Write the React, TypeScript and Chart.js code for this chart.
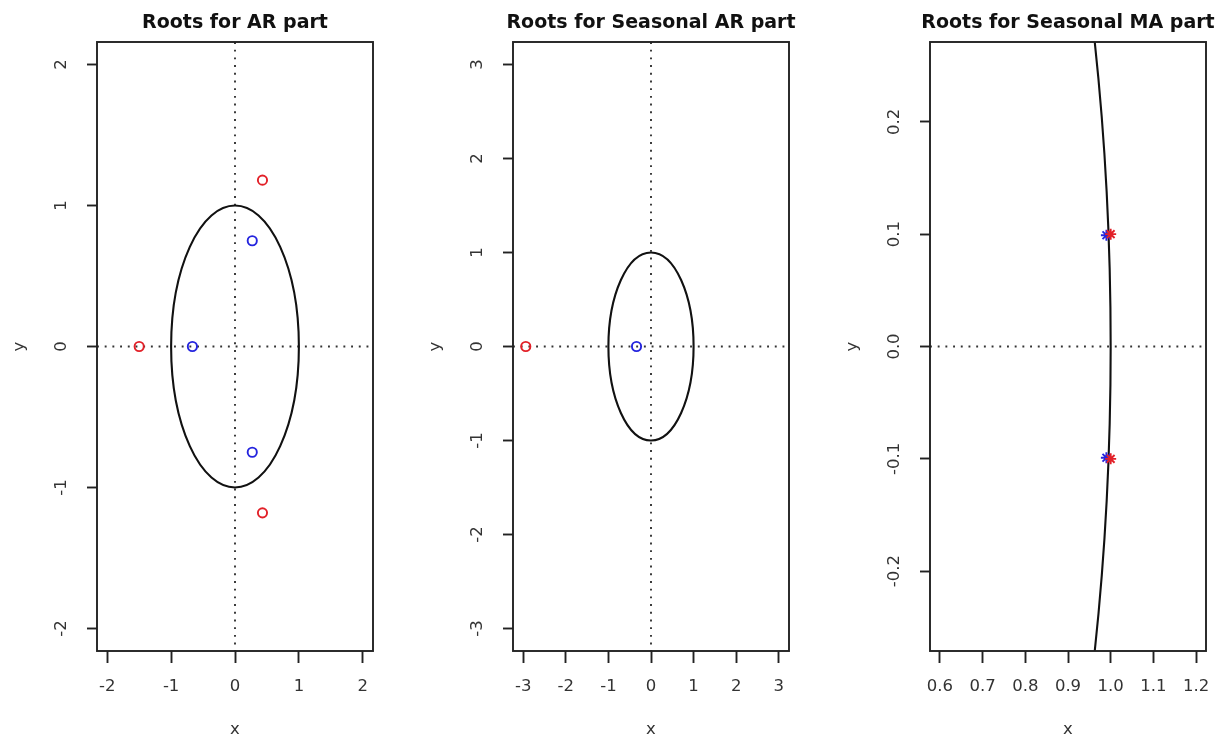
import React, { useEffect, useRef } from 'react';
import { Chart, registerables } from 'chart.js';

Chart.register(...registerables);

// ---------- data ----------
// Panel 1: AR part
const AR_ROOT_X = [-1.5, 0.43, 0.43];
const AR_ROOT_Y = [0, 1.18, -1.18];
const AR_INV_X = [-0.667, 0.27, 0.27];
const AR_INV_Y = [0, 0.75, -0.75];
const AR_TICKS = [-2, -1, 0, 1, 2];
const AR_TICK_LABELS = ['-2', '-1', '0', '1', '2'];

// Panel 2: Seasonal AR part
const SAR_ROOT_X = [-2.94];
const SAR_ROOT_Y = [0];
const SAR_INV_X = [-0.34];
const SAR_INV_Y = [0];
const SAR_TICKS = [-3, -2, -1, 0, 1, 2, 3];
const SAR_TICK_LABELS = ['-3', '-2', '-1', '0', '1', '2', '3'];

// Panel 3: Seasonal MA part
const SMA_ROOT_X = [1.0, 1.0];
const SMA_ROOT_Y = [0.1, -0.1];
const SMA_INV_X = [0.99, 0.99];
const SMA_INV_Y = [0.099, -0.099];
const SMA_X_TICKS = [0.6, 0.7, 0.8, 0.9, 1.0, 1.1, 1.2];
const SMA_X_TICK_LABELS = ['0.6', '0.7', '0.8', '0.9', '1.0', '1.1', '1.2'];
const SMA_Y_TICKS = [-0.2, -0.1, 0, 0.1, 0.2];
const SMA_Y_TICK_LABELS = ['-0.2', '-0.1', '0.0', '0.1', '0.2'];

const TITLES = ['Roots for AR part', 'Roots for Seasonal AR part', 'Roots for Seasonal MA part'];

// ---------- layout / style ----------
const FONT = 'DejaVu Sans';
const RED = 'rgb(226, 32, 40)';
const BLUE = 'rgb(36, 36, 222)';

type PanelCfg = {
  title: string;
  left: number;
  width: number;
  padRight: number;
  xRange: [number, number];
  yRange: [number, number];
  xTicks: number[];
  xLabels: string[];
  yTicks: number[];
  yLabels: string[];
  rootX: number[];
  rootY: number[];
  invX: number[];
  invY: number[];
  marker: 'circle' | 'star';
  yLabelPad: number;
};

const PANELS: PanelCfg[] = [
  {
    title: TITLES[0], left: 0, width: 408, padRight: 35,
    xRange: [-2.16, 2.16], yRange: [-2.16, 2.16],
    xTicks: AR_TICKS, xLabels: AR_TICK_LABELS, yTicks: AR_TICKS, yLabels: AR_TICK_LABELS,
    rootX: AR_ROOT_X, rootY: AR_ROOT_Y, invX: AR_INV_X, invY: AR_INV_Y,
    marker: 'circle', yLabelPad: 17,
  },
  {
    title: TITLES[1], left: 416, width: 394, padRight: 21,
    xRange: [-3.24, 3.24], yRange: [-3.24, 3.24],
    xTicks: SAR_TICKS, xLabels: SAR_TICK_LABELS, yTicks: SAR_TICKS, yLabels: SAR_TICK_LABELS,
    rootX: SAR_ROOT_X, rootY: SAR_ROOT_Y, invX: SAR_INV_X, invY: SAR_INV_Y,
    marker: 'circle', yLabelPad: 17,
  },
  {
    title: TITLES[2], left: 833, width: 392, padRight: 19,
    xRange: [0.5766, 1.2234], yRange: [-0.271, 0.271],
    xTicks: SMA_X_TICKS, xLabels: SMA_X_TICK_LABELS, yTicks: SMA_Y_TICKS, yLabels: SMA_Y_TICK_LABELS,
    rootX: SMA_ROOT_X, rootY: SMA_ROOT_Y, invX: SMA_INV_X, invY: SMA_INV_Y,
    marker: 'star', yLabelPad: 9,
  },
];

const zip = (xs: number[], ys: number[]) => xs.map((x, i) => ({ x, y: ys[i] }));

function makeDecor(title: string) {
  return {
    id: 'decor',
    beforeDatasetsDraw(chart: any) {
      const { ctx, chartArea: a, scales } = chart;
      const x = scales.x;
      const y = scales.y;
      const x0 = x.getPixelForValue(0);
      const y0 = y.getPixelForValue(0);
      ctx.save();
      ctx.beginPath();
      ctx.rect(a.left, a.top, a.right - a.left, a.bottom - a.top);
      ctx.clip();
      // dotted zero lines
      ctx.strokeStyle = '#333';
      ctx.lineWidth = 1.9;
      ctx.setLineDash([1.9, 5.8]);
      ctx.beginPath();
      ctx.moveTo(a.left, y0);
      ctx.lineTo(a.right, y0);
      ctx.stroke();
      if (x0 >= a.left && x0 <= a.right) {
        ctx.beginPath();
        ctx.moveTo(x0, a.top);
        ctx.lineTo(x0, a.bottom);
        ctx.stroke();
      }
      // unit circle
      ctx.setLineDash([]);
      ctx.strokeStyle = '#111';
      ctx.lineWidth = 2.1;
      const rx = Math.abs(x.getPixelForValue(1) - x0);
      const ry = Math.abs(y.getPixelForValue(1) - y0);
      ctx.beginPath();
      ctx.ellipse(x0, y0, rx, ry, 0, 0, Math.PI * 2);
      ctx.stroke();
      ctx.restore();
    },
    afterDraw(chart: any) {
      const { ctx, chartArea: a } = chart;
      ctx.save();
      ctx.strokeStyle = '#222';
      ctx.lineWidth = 1.9;
      ctx.strokeRect(a.left, a.top, a.right - a.left, a.bottom - a.top);
      ctx.fillStyle = '#111';
      ctx.font = `bold 19px "${FONT}"`;
      ctx.textAlign = 'center';
      ctx.textBaseline = 'alphabetic';
      ctx.fillText(title, (a.left + a.right) / 2, 28);
      ctx.restore();
    },
  };
}

function Panel({ cfg }: { cfg: PanelCfg }) {
  const ref = useRef<HTMLCanvasElement>(null);
  useEffect(() => {
    const labelFor = (ticks: number[], labels: string[]) => (v: any) => {
      const i = ticks.indexOf(Number(v));
      return i >= 0 ? labels[i] : '';
    };
    const chart = new Chart(ref.current!, {
      type: 'scatter',
      data: {
        datasets: [
          {
            label: 'roots',
            data: zip(cfg.rootX, cfg.rootY),
            pointStyle: cfg.marker,
            pointRadius: cfg.marker === 'star' ? 5.5 : 4.6,
            pointBorderWidth: 1.9,
            borderColor: RED,
            backgroundColor: 'rgba(0,0,0,0)',
            showLine: false,
          },
          {
            label: 'inverse roots',
            data: zip(cfg.invX, cfg.invY),
            pointStyle: cfg.marker,
            pointRadius: cfg.marker === 'star' ? 5.5 : 4.6,
            pointBorderWidth: 1.9,
            borderColor: BLUE,
            backgroundColor: 'rgba(0,0,0,0)',
            showLine: false,
          },
        ],
      },
      options: {
        responsive: false,
        animation: false,
        devicePixelRatio: 1,
        layout: { padding: { left: 0, right: cfg.padRight, top: 42, bottom: 0 } },
        plugins: {
          legend: { display: false },
          tooltip: { enabled: false },
          title: { display: false },
        },
        scales: {
          x: {
            type: 'linear',
            min: cfg.xRange[0],
            max: cfg.xRange[1],
            afterBuildTicks: (s: any) => {
              s.ticks = cfg.xTicks.map((v) => ({ value: v }));
            },
            afterFit: (s: any) => {
              s.height = 89;
            },
            grid: {
              drawOnChartArea: false,
              drawTicks: true,
              tickLength: 12,
              tickColor: '#222',
              tickWidth: 1.9,
            },
            border: { display: false },
            ticks: {
              autoSkip: false,
              minRotation: 0,
              maxRotation: 0,
              padding: 14,
              color: '#333',
              font: { family: FONT, size: 16.5 },
              callback: labelFor(cfg.xTicks, cfg.xLabels),
            },
            title: {
              display: true,
              text: 'x',
              color: '#333',
              font: { family: FONT, size: 16.5 },
              padding: { top: 0, bottom: 0 },
            },
          },
          y: {
            type: 'linear',
            min: cfg.yRange[0],
            max: cfg.yRange[1],
            afterBuildTicks: (s: any) => {
              s.ticks = cfg.yTicks.map((v) => ({ value: v }));
            },
            afterFit: (s: any) => {
              s.width = 97;
            },
            grid: {
              drawOnChartArea: false,
              drawTicks: true,
              tickLength: 10,
              tickColor: '#222',
              tickWidth: 1.9,
            },
            border: { display: false },
            ticks: {
              autoSkip: false,
              minRotation: 90,
              maxRotation: 90,
              crossAlign: 'center',
              padding: cfg.yLabelPad,
              color: '#333',
              font: { family: FONT, size: 16.5 },
              callback: labelFor(cfg.yTicks, cfg.yLabels),
            },
            title: {
              display: true,
              text: 'y',
              color: '#333',
              font: { family: FONT, size: 16.5 },
              padding: { top: 10, bottom: 0 },
            },
          },
        },
      },
      plugins: [makeDecor(cfg.title)],
    } as any);
    return () => chart.destroy();
  }, [cfg]);
  return (
    <canvas
      ref={ref}
      width={cfg.width}
      height={740}
      style={{ position: 'absolute', left: cfg.left, top: 0, width: cfg.width, height: 740 }}
    />
  );
}

export default function App() {
  return (
    <div style={{ position: 'fixed', left: 0, top: 0, width: 1225, height: 740, background: '#fff', overflow: 'hidden' }}>
      {PANELS.map((p, i) => (
        <Panel key={i} cfg={p} />
      ))}
    </div>
  );
}
